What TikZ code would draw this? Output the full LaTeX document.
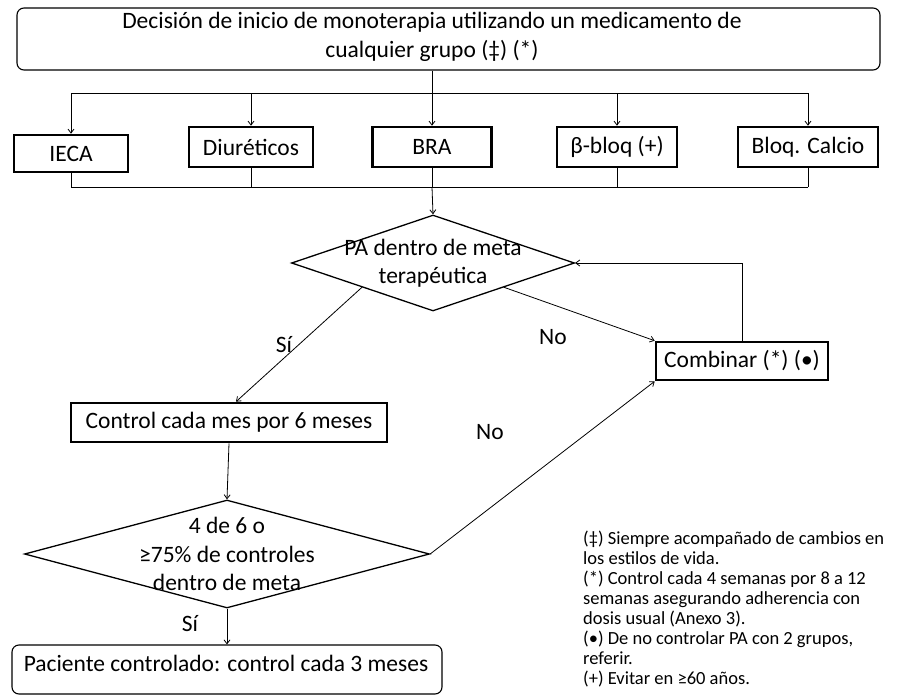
\documentclass[tikz,border=0pt]{standalone}
\usepackage{fontspec}
\setmainfont{Carlito}
\usetikzlibrary{shapes.geometric,arrows.meta}
\tikzset{
  txt/.style={font=\fontsize{23.5}{28.5}\selectfont},
  groupbox/.style={draw, line width=2.6pt, minimum height=40pt, inner sep=2pt, txt},
  thinround/.style={draw, rounded corners=7pt, line width=1.1pt},
  decision/.style={draw, diamond, line width=1.3pt, inner sep=0pt},
  link/.style={line width=0.8pt},
  arrowlink/.style={link, -{Straight Barb[length=4pt,width=6pt]}},
}
\begin{document}
\begin{tikzpicture}[x=1pt,y=-1pt]
\useasboundingbox[fill=white] (0,0) rectangle (900,696);

% start
\node[thinround, minimum width=863pt, minimum height=62pt] (decbox) at (448.5,39) {};
\node[txt, align=center] (dectext) at (432,37) {Decisión de inicio de monoterapia utilizando un medicamento de\\cualquier grupo (‡) (*)};

% groups
\node[groupbox, minimum width=114pt, minimum height=37pt] (ieca) at (71,153.5) {IECA};
\node[groupbox, minimum width=124pt] (diur) at (251,147) {Diuréticos};
\node[groupbox, minimum width=119pt] (bra) at (432,147) {BRA};
\node[groupbox, minimum width=120pt] (bbloq) at (617,147) {β-bloq (+)};
\node[groupbox, minimum width=140pt] (calcio) at (808,147) {Bloq. Calcio};

\coordinate (split) at (432,93);
\coordinate (join) at (432,187);
\draw[link] (ieca.north |- split) -- (calcio.north |- split);
\foreach \g in {ieca,diur,bbloq,calcio}
  \draw[arrowlink] (\g.north |- split) -- (\g.north);
\draw[arrowlink] (bra.north |- decbox.south) -- (bra.north);
\foreach \g in {ieca,diur,bra,bbloq,calcio}
  \draw[link] (\g.south) -- (\g.south |- join);
\draw[link] (ieca.south |- join) -- (calcio.south |- join);

% checks
\node[decision, shape aspect=2.95, minimum width=283pt, minimum height=96pt] (meta) at (433,263) {};
\node[txt, align=center] (metatext) at (meta) {PA dentro de meta\\terapéutica};
\node[groupbox, minimum width=172pt, minimum height=38pt] (combinar) at (742,361) {Combinar (*) (•)};
\node[groupbox, minimum width=316pt, minimum height=39pt] (mensual) at (229,422.5) {Control cada mes por 6 meses};
\node[decision, shape aspect=3.75, minimum width=405pt, minimum height=108pt] (cuatro) at (227,554) {};
\node[txt, align=center] (cuatrotext) at (cuatro) {4 de 6 o\\≥75\% de controles\\dentro de meta};
\node[thinround, minimum width=430pt, minimum height=49pt] (pacbox) at (227,669.5) {};
\node[txt] (pactext) at (226,663) {Paciente controlado: control cada 3 meses};

\draw[arrowlink] (join) -- (meta.north);
\draw[arrowlink] (meta.south west) -- ([xshift=7pt]mensual.north);
\draw[arrowlink] (meta.south east) -- (combinar.north west);
\draw[arrowlink] (combinar.north) |- (meta.east);
\draw[arrowlink] (mensual.south) -- (cuatro.north);
\draw[arrowlink] (cuatro.east) -- (combinar.south west);
\draw[arrowlink] (cuatro.south) -- (pacbox.north);

\node[txt] (si1) at (284,345) {Sí};
\node[txt] (no1) at (553,337) {No};
\node[txt] (no2) at (490,432) {No};
\node[txt] (si2) at (190,624) {Sí};

% notes
\node[anchor=north west, align=left, inner sep=0pt, font=\fontsize{18.5}{20}\selectfont] (notas) at (583,531) {(‡) Siempre acompañado de cambios en\\los estilos de vida.\\(*) Control cada 4 semanas por 8 a 12\\semanas asegurando adherencia con\\dosis usual (Anexo 3).\\(•) De no controlar PA con 2 grupos,\\referir.\\(+) Evitar en ≥60 años.};
\end{tikzpicture}
\end{document}
